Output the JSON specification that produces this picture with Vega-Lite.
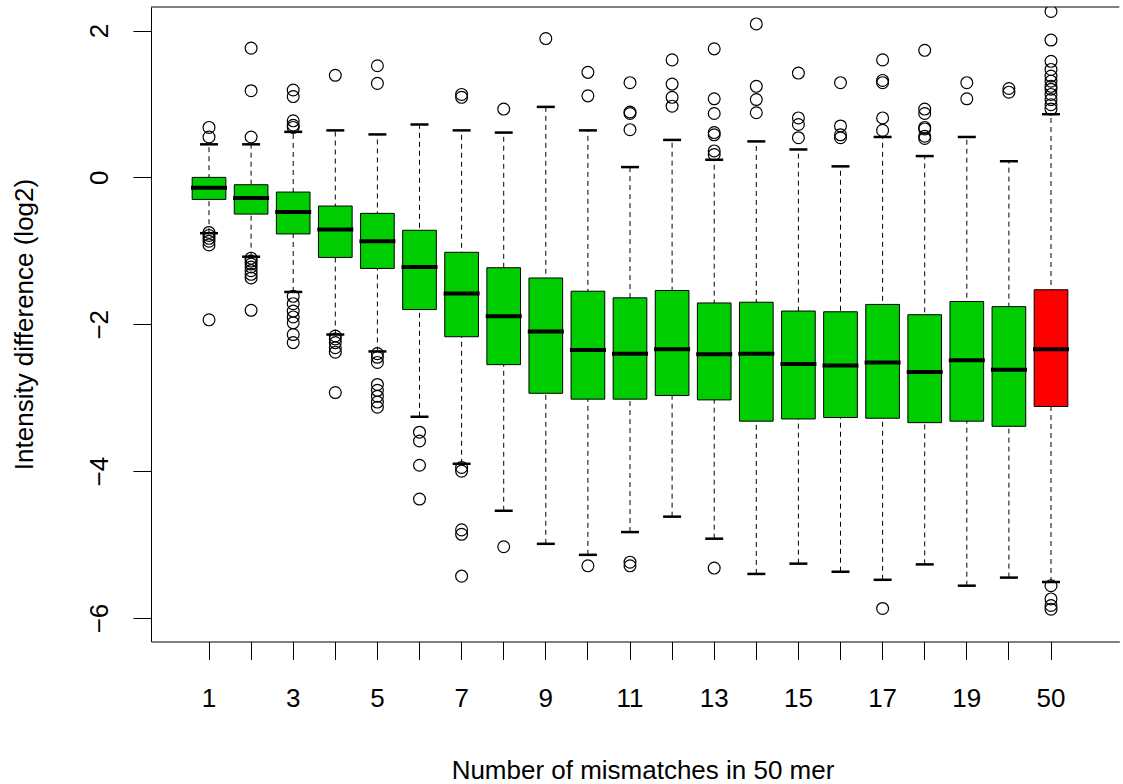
{
  "$schema": "https://vega.github.io/schema/vega-lite/v6.json",
  "autosize": {"type": "none"},
  "padding": {"left": 151, "top": 7, "right": 4, "bottom": 143},
  "width": 968.3,
  "height": 634.5,
  "background": "white",
  "config": {
    "view": {"stroke": null},
    "font": "Liberation Sans",
    "axis": {"grid": false, "domain": true, "domainColor": "black", "domainWidth": 1, "tickColor": "black", "tickWidth": 1, "tickSize": 18, "labelColor": "black", "titleColor": "black", "labelFont": "Liberation Sans", "titleFont": "Liberation Sans", "labelFontSize": 26, "titleFontSize": 26, "titleFontWeight": "normal"}
  },
  "datasets": {
    "stats": [
      {"mm": 1, "type": "mismatch", "lo": -0.76, "q1": -0.30, "med": -0.14, "q3": 0.00, "hi": 0.45},
      {"mm": 2, "type": "mismatch", "lo": -1.08, "q1": -0.50, "med": -0.28, "q3": -0.10, "hi": 0.45},
      {"mm": 3, "type": "mismatch", "lo": -1.56, "q1": -0.77, "med": -0.47, "q3": -0.20, "hi": 0.62},
      {"mm": 4, "type": "mismatch", "lo": -2.14, "q1": -1.09, "med": -0.71, "q3": -0.39, "hi": 0.64},
      {"mm": 5, "type": "mismatch", "lo": -2.37, "q1": -1.24, "med": -0.87, "q3": -0.49, "hi": 0.585},
      {"mm": 6, "type": "mismatch", "lo": -3.26, "q1": -1.80, "med": -1.22, "q3": -0.72, "hi": 0.72},
      {"mm": 7, "type": "mismatch", "lo": -3.90, "q1": -2.17, "med": -1.58, "q3": -1.02, "hi": 0.64},
      {"mm": 8, "type": "mismatch", "lo": -4.54, "q1": -2.55, "med": -1.89, "q3": -1.23, "hi": 0.61},
      {"mm": 9, "type": "mismatch", "lo": -4.99, "q1": -2.94, "med": -2.10, "q3": -1.37, "hi": 0.96},
      {"mm": 10, "type": "mismatch", "lo": -5.14, "q1": -3.02, "med": -2.35, "q3": -1.55, "hi": 0.64},
      {"mm": 11, "type": "mismatch", "lo": -4.83, "q1": -3.02, "med": -2.40, "q3": -1.64, "hi": 0.14},
      {"mm": 12, "type": "mismatch", "lo": -4.62, "q1": -2.97, "med": -2.34, "q3": -1.54, "hi": 0.51},
      {"mm": 13, "type": "mismatch", "lo": -4.92, "q1": -3.03, "med": -2.41, "q3": -1.71, "hi": 0.24},
      {"mm": 14, "type": "mismatch", "lo": -5.40, "q1": -3.32, "med": -2.40, "q3": -1.70, "hi": 0.49},
      {"mm": 15, "type": "mismatch", "lo": -5.26, "q1": -3.29, "med": -2.54, "q3": -1.82, "hi": 0.38},
      {"mm": 16, "type": "mismatch", "lo": -5.37, "q1": -3.27, "med": -2.56, "q3": -1.83, "hi": 0.15},
      {"mm": 17, "type": "mismatch", "lo": -5.48, "q1": -3.28, "med": -2.52, "q3": -1.73, "hi": 0.55},
      {"mm": 18, "type": "mismatch", "lo": -5.27, "q1": -3.34, "med": -2.65, "q3": -1.87, "hi": 0.29},
      {"mm": 19, "type": "mismatch", "lo": -5.56, "q1": -3.32, "med": -2.49, "q3": -1.69, "hi": 0.55},
      {"mm": 20, "type": "mismatch", "lo": -5.45, "q1": -3.39, "med": -2.62, "q3": -1.76, "hi": 0.22},
      {"mm": 50, "type": "random", "lo": -5.51, "q1": -3.12, "med": -2.34, "q3": -1.53, "hi": 0.86}
    ],
    "outliers": [
      {"mm": 1, "v": 0.68}, {"mm": 1, "v": 0.55}, {"mm": 1, "v": -0.75}, {"mm": 1, "v": -0.79}, {"mm": 1, "v": -0.83}, {"mm": 1, "v": -0.87}, {"mm": 1, "v": -0.92}, {"mm": 1, "v": -1.94},
      {"mm": 2, "v": 1.76}, {"mm": 2, "v": 1.18}, {"mm": 2, "v": 0.55}, {"mm": 2, "v": -1.10}, {"mm": 2, "v": -1.14}, {"mm": 2, "v": -1.18}, {"mm": 2, "v": -1.22}, {"mm": 2, "v": -1.27}, {"mm": 2, "v": -1.32}, {"mm": 2, "v": -1.37}, {"mm": 2, "v": -1.81},
      {"mm": 3, "v": 1.19}, {"mm": 3, "v": 1.10}, {"mm": 3, "v": 0.77}, {"mm": 3, "v": 0.71}, {"mm": 3, "v": 0.68}, {"mm": 3, "v": -1.62}, {"mm": 3, "v": -1.72}, {"mm": 3, "v": -1.82}, {"mm": 3, "v": -1.90}, {"mm": 3, "v": -1.98}, {"mm": 3, "v": -2.14}, {"mm": 3, "v": -2.25},
      {"mm": 4, "v": 1.39}, {"mm": 4, "v": -2.16}, {"mm": 4, "v": -2.20}, {"mm": 4, "v": -2.25}, {"mm": 4, "v": -2.32}, {"mm": 4, "v": -2.38}, {"mm": 4, "v": -2.93},
      {"mm": 5, "v": 1.52}, {"mm": 5, "v": 1.28}, {"mm": 5, "v": -2.40}, {"mm": 5, "v": -2.45}, {"mm": 5, "v": -2.52}, {"mm": 5, "v": -2.82}, {"mm": 5, "v": -2.90}, {"mm": 5, "v": -2.98}, {"mm": 5, "v": -3.06}, {"mm": 5, "v": -3.13},
      {"mm": 6, "v": -3.47}, {"mm": 6, "v": -3.59}, {"mm": 6, "v": -3.92}, {"mm": 6, "v": -4.38},
      {"mm": 7, "v": 1.13}, {"mm": 7, "v": 1.09}, {"mm": 7, "v": -3.95}, {"mm": 7, "v": -4.00}, {"mm": 7, "v": -4.80}, {"mm": 7, "v": -4.86}, {"mm": 7, "v": -5.43},
      {"mm": 8, "v": 0.93}, {"mm": 8, "v": -5.03},
      {"mm": 9, "v": 1.89},
      {"mm": 10, "v": 1.43}, {"mm": 10, "v": 1.11}, {"mm": 10, "v": -5.29},
      {"mm": 11, "v": 1.29}, {"mm": 11, "v": 0.89}, {"mm": 11, "v": 0.87}, {"mm": 11, "v": 0.65}, {"mm": 11, "v": -5.24}, {"mm": 11, "v": -5.29},
      {"mm": 12, "v": 1.60}, {"mm": 12, "v": 1.27}, {"mm": 12, "v": 1.09}, {"mm": 12, "v": 0.97},
      {"mm": 13, "v": 1.75}, {"mm": 13, "v": 1.07}, {"mm": 13, "v": 0.87}, {"mm": 13, "v": 0.61}, {"mm": 13, "v": 0.58}, {"mm": 13, "v": 0.36}, {"mm": 13, "v": 0.31}, {"mm": 13, "v": -5.32},
      {"mm": 14, "v": 2.09}, {"mm": 14, "v": 1.24}, {"mm": 14, "v": 1.06}, {"mm": 14, "v": 0.88},
      {"mm": 15, "v": 1.42}, {"mm": 15, "v": 0.81}, {"mm": 15, "v": 0.72}, {"mm": 15, "v": 0.54},
      {"mm": 16, "v": 1.29}, {"mm": 16, "v": 0.70}, {"mm": 16, "v": 0.58}, {"mm": 16, "v": 0.54},
      {"mm": 17, "v": 1.60}, {"mm": 17, "v": 1.32}, {"mm": 17, "v": 1.29}, {"mm": 17, "v": 0.81}, {"mm": 17, "v": 0.64}, {"mm": 17, "v": -5.87},
      {"mm": 18, "v": 1.73}, {"mm": 18, "v": 0.93}, {"mm": 18, "v": 0.87}, {"mm": 18, "v": 0.68}, {"mm": 18, "v": 0.66}, {"mm": 18, "v": 0.56}, {"mm": 18, "v": 0.53},
      {"mm": 19, "v": 1.29}, {"mm": 19, "v": 1.07},
      {"mm": 20, "v": 1.21}, {"mm": 20, "v": 1.16},
      {"mm": 50, "v": 2.26}, {"mm": 50, "v": 1.87}, {"mm": 50, "v": 1.58}, {"mm": 50, "v": 1.47}, {"mm": 50, "v": 1.38}, {"mm": 50, "v": 1.31}, {"mm": 50, "v": 1.24}, {"mm": 50, "v": 1.20}, {"mm": 50, "v": 1.13}, {"mm": 50, "v": 1.06}, {"mm": 50, "v": 0.99}, {"mm": 50, "v": 0.93},
      {"mm": 50, "v": -5.56}, {"mm": 50, "v": -5.74}, {"mm": 50, "v": -5.83}, {"mm": 50, "v": -5.88}
    ]
  },
  "layer": [
    {
      "data": {"name": "stats"},
      "mark": {"type": "rule", "color": "black", "strokeWidth": 1, "strokeDash": [5, 4], "opacity": 1},
      "encoding": {
        "x": {
          "field": "mm", "type": "ordinal",
          "scale": {"type": "band", "paddingInner": 0, "paddingOuter": 1, "align": 0.4389},
          "axis": {
            "title": "Number of mismatches in 50 mer",
            "labelAngle": 0,
            "labelBaseline": "alphabetic",
            "labelPadding": 47,
            "labelExpr": "(datum.value % 2 == 1 || datum.value == 50) ? datum.label : ''",
            "titleBaseline": "alphabetic",
            "titleAlign": "center",
            "titleX": 491.5,
            "titleY": 137,
            "labelOverlap": false
          }
        },
        "y": {
          "field": "lo", "type": "quantitative",
          "scale": {"domain": [-6.32, 2.32], "nice": false, "zero": false},
          "axis": {
            "title": "Intensity difference (log2)",
            "values": [-6, -4, -2, 0, 2],
            "format": "d",
            "labelAngle": 270,
            "labelAlign": "center",
            "labelBaseline": "alphabetic",
            "labelPadding": 25,
            "labelExpr": "replace(datum.label, '-', '\u2212')",
            "titleAngle": 270,
            "titleBaseline": "alphabetic",
            "titleAnchor": "middle",
            "titleX": -118,
            "titleY": 317
          }
        },
        "y2": {"field": "hi"}
      }
    },
    {
      "data": {"values": [{"edge": "top"}]},
      "mark": {"type": "rule", "color": "black", "strokeWidth": 1, "opacity": 1},
      "encoding": {"y": {"datum": 2.32, "type": "quantitative"}}
    },
    {
      "data": {"name": "stats"},
      "mark": {"type": "tick", "color": "black", "size": 18, "thickness": 2.5, "opacity": 1},
      "encoding": {"x": {"field": "mm", "type": "ordinal"}, "y": {"field": "lo", "type": "quantitative"}}
    },
    {
      "data": {"name": "stats"},
      "mark": {"type": "tick", "color": "black", "size": 18, "thickness": 2.5, "opacity": 1},
      "encoding": {"x": {"field": "mm", "type": "ordinal"}, "y": {"field": "hi", "type": "quantitative"}}
    },
    {
      "data": {"name": "stats"},
      "mark": {"type": "bar", "width": {"band": 0.8}, "stroke": "black", "strokeWidth": 1, "opacity": 1},
      "encoding": {
        "x": {"field": "mm", "type": "ordinal"},
        "y": {"field": "q1", "type": "quantitative"},
        "y2": {"field": "q3"},
        "fill": {"field": "type", "type": "nominal", "scale": {"domain": ["mismatch", "random"], "range": ["#00CD00", "#FF0000"]}, "legend": null}
      }
    },
    {
      "data": {"name": "stats"},
      "mark": {"type": "tick", "color": "black", "size": 36, "thickness": 4, "opacity": 1},
      "encoding": {"x": {"field": "mm", "type": "ordinal"}, "y": {"field": "med", "type": "quantitative"}}
    },
    {
      "data": {"name": "outliers"},
      "mark": {"type": "point", "shape": "circle", "filled": false, "stroke": "black", "strokeWidth": 1.2, "size": 140, "opacity": 1, "clip": true},
      "encoding": {"x": {"field": "mm", "type": "ordinal"}, "y": {"field": "v", "type": "quantitative"}}
    }
  ]
}
